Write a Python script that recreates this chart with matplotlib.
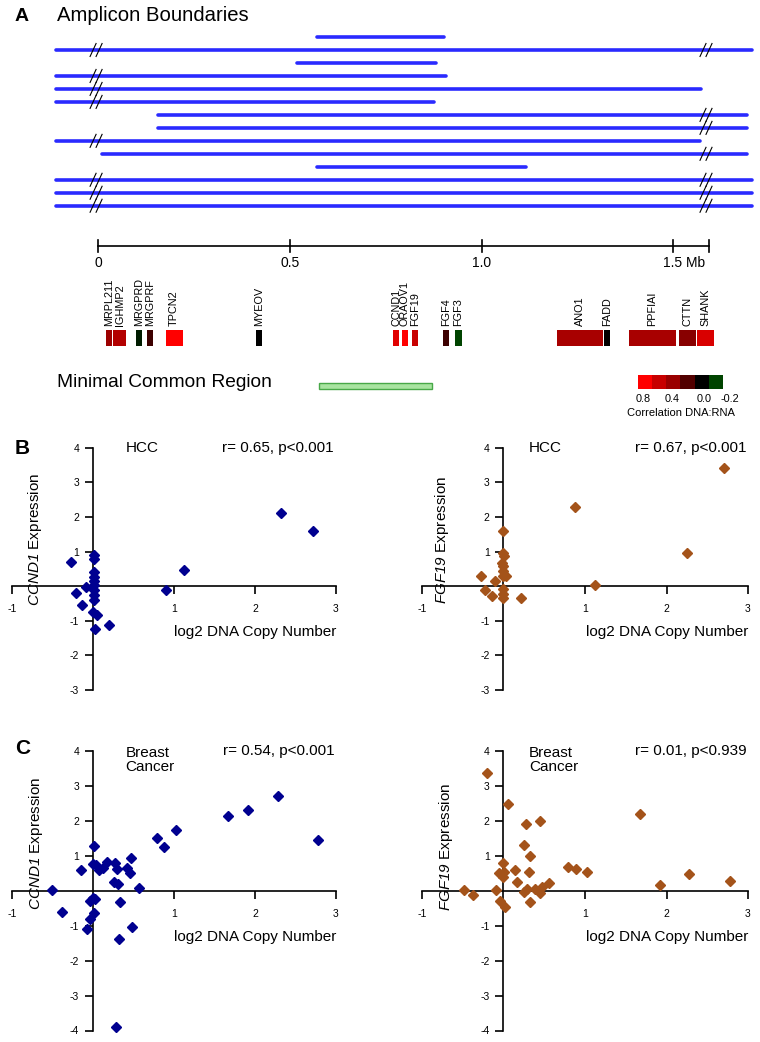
import numpy as np
import matplotlib.pyplot as plt
from matplotlib.colors import LinearSegmentedColormap, Normalize
from matplotlib.patches import Rectangle

plt.rcParams['font.family'] = ['Liberation Sans', 'DejaVu Sans']
plt.rcParams['mathtext.fontset'] = 'custom'
plt.rcParams['mathtext.it'] = 'Liberation Sans:italic'
plt.rcParams['mathtext.rm'] = 'Liberation Sans:italic'
plt.rcParams['axes.unicode_minus'] = False

# ---- panel A data (positions in Mb) ----
amp_start = [0.572, -0.110, 0.520, -0.110, -0.110, -0.110, 0.157, 0.157, -0.110, 0.010, 0.572, -0.110, -0.110, -0.110]
amp_end = [0.901, 1.705, 0.880, 0.906, 1.572, 0.875, 1.692, 1.692, 1.569, 1.692, 1.115, 1.705, 1.705, 1.705]
amp_break_left = [0, 1, 0, 1, 1, 1, 0, 0, 1, 0, 0, 1, 1, 1]
amp_break_right = [0, 1, 0, 0, 0, 0, 1, 1, 0, 1, 0, 1, 1, 1]
break_left_mb = -0.005
break_right_mb = 1.585

scale_ticks = [0, 0.5, 1.0, 1.5]
scale_labels = ['0', '0.5', '1.0', '1.5 Mb']
scale_end = 1.592

genes = ['MRPL211', 'IGHMP2', 'MRGPRD', 'MRGPRF', 'TPCN2', 'MYEOV', 'CCND1', 'ORAOV1',
         'FGF19', 'FGF4', 'FGF3', 'ANO1', 'FADD', 'PPFIAI', 'CTTN', 'SHANK']
gene_start = [0.020, 0.040, 0.100, 0.127, 0.176, 0.412, 0.770, 0.792,
              0.818, 0.900, 0.931, 1.196, 1.320, 1.385, 1.515, 1.562]
gene_end = [0.036, 0.073, 0.116, 0.144, 0.221, 0.428, 0.785, 0.807,
            0.834, 0.916, 0.948, 1.316, 1.335, 1.506, 1.558, 1.607]
gene_corr = [0.41, 0.51, -0.08, 0.15, 0.80, 0.0, 0.69, 0.80,
             0.60, 0.15, -0.20, 0.46, 0.01, 0.46, 0.35, 0.66]

mcr_start, mcr_end = 0.576, 0.871
cbar_vals = [0.8, 0.6, 0.4, 0.2, 0.0, -0.2]
cbar_labels = ['0.8', '0.4', '0.0', '-0.2']

# ---- panels B/C data ----
hcc_cn1 = [-0.27, -0.21, -0.13, -0.09, 0.01, 0.01, 0.01, 0.01, 0.01, 0.01, 0.01,
           0.01, 0.01, 0.0, 0.05, 0.02, 0.20, 0.90, 1.12, 2.32, 2.72]
hcc_ccnd1 = [0.71, -0.19, -0.55, -0.03, 0.90, 0.78, 0.42, 0.26, 0.16, 0.04, -0.12,
             -0.25, -0.41, -0.74, -0.82, -1.24, -1.11, -0.10, 0.46, 2.10, 1.58]

hcc_cn2 = [-0.27, -0.23, -0.14, -0.11, 0.0, 0.0, 0.01, -0.02, 0.0, 0.0, 0.0,
           0.03, 0.0, 0.0, -0.01, 0.21, 0.88, 1.12, 2.25, 2.71]
hcc_fgf19 = [0.30, -0.12, -0.29, 0.16, 1.58, 0.95, 0.87, 0.66, 0.59, 0.45, 0.30,
             0.28, -0.08, -0.22, -0.33, -0.33, 2.29, 0.02, 0.97, 3.40]

br_cn1 = [-0.51, -0.38, -0.15, -0.07, -0.04, 0.01, 0.0, 0.04, -0.04, 0.0, 0.03,
          0.01, 0.07, 0.12, 0.17, 0.27, 0.30, 0.26, 0.31, 0.33, 0.32, 0.28,
          0.42, 0.46, 0.47, 0.48, 0.57, 0.79, 0.88, 1.03, 1.67, 1.91, 2.28, 2.78]
br_ccnd1 = [0.02, -0.60, 0.59, -1.10, -0.82, 1.28, 0.75, 0.73, -0.31, -0.22, -0.23,
            -0.63, 0.59, 0.64, 0.83, 0.80, 0.61, 0.24, 0.19, -0.34, -1.39, -3.89,
            0.64, 0.50, 0.92, -1.05, 0.07, 1.49, 1.24, 1.73, 2.13, 2.30, 2.70, 1.44]

br_cn2 = [-0.48, -0.37, -0.20, -0.09, -0.06, 0.06, -0.01, 0.01, 0.0, -0.04, 0.02,
          0.14, 0.16, 0.25, 0.27, 0.25, 0.31, 0.33, 0.29, 0.33, 0.39, 0.45, 0.45,
          0.47, 0.56, 0.79, 0.89, 1.02, 1.67, 1.92, 2.28, 2.78]
br_fgf19 = [0.02, -0.14, 3.35, 0.02, 0.51, 2.48, 0.80, 0.54, 0.40, -0.29, -0.46,
            0.59, 0.26, 1.30, 1.90, -0.05, 0.54, 1.00, 0.04, -0.34, 0.04, 2.00, -0.08,
            0.11, 0.23, 0.67, 0.63, 0.52, 2.19, 0.16, 0.48, 0.27]

blue = '#000090'
brown = '#a4531a'
amp_color = '#2a2aff'

fig = plt.figure(figsize=(7.6, 10.42), dpi=100)
H = 1042.0
mb = 383.6  # pixels per Mb in panel A

# ---------------- panel A ----------------
axA = fig.add_axes([0, 1 - 430 / H, 1, 430 / H])
axA.set_xlim(-98 / mb, 662 / mb)
axA.set_ylim(430, 0)
axA.axis('off')

fig.text(21.5 / 760, 1 - 16.5 / H, 'A', fontsize=14, fontweight='bold', ha='center', va='center')
axA.text(-41 / mb, 21, 'Amplicon Boundaries', fontsize=14.6, va='baseline', ha='left')

row_y = 37 + 12.98 * np.arange(len(amp_start))
for s, e, bl, br, y in zip(amp_start, amp_end, amp_break_left, amp_break_right, row_y):
    axA.plot([s, e], [y, y], color=amp_color, lw=2.6, solid_capstyle='round')
    for flag, xb in ((bl, break_left_mb), (br, break_right_mb)):
        if flag:
            for off in (-3, 3):
                cx = xb + off / mb
                axA.plot([cx - 3 / mb, cx + 3 / mb], [y + 6.5, y - 6.5], color='black', lw=0.8)

# scale
axA.plot([0, scale_end], [246, 246], color='black', lw=1.2)
for t in scale_ticks + [scale_end]:
    axA.plot([t, t], [240, 252], color='black', lw=1.2)
for t, lab in zip(scale_ticks, scale_labels):
    if lab.endswith('Mb'):
        axA.text(t - 10 / mb, 267, lab, fontsize=10, ha='left', va='baseline')
    else:
        axA.text(t, 267, lab, fontsize=10, ha='center', va='baseline')

# genes
cmap = LinearSegmentedColormap.from_list(
    'dnarna', [(0, '#004400'), (0.2, '#000000'), (0.4, '#520000'),
               (0.6, '#9a0000'), (0.8, '#c80000'), (1, '#ff0000')])
norm = Normalize(vmin=-0.2, vmax=0.8)
for g, s, e, c in zip(genes, gene_start, gene_end, gene_corr):
    axA.add_patch(Rectangle((s, 330), e - s, 16, facecolor=cmap(norm(c)), edgecolor='none'))
    axA.text((s + e) / 2, 326, g, rotation=90, fontsize=7.8, ha='center', va='bottom')

# minimal common region
axA.text(-41 / mb, 387, 'Minimal Common Region', fontsize=13.8, ha='left', va='baseline')
axA.add_patch(Rectangle((mcr_start, 382.5), mcr_end - mcr_start, 6.5,
                        facecolor='#a8e4a0', edgecolor='#48a848', lw=1))

# colour key
axcb = fig.add_axes([638 / 760, 1 - 389 / H, 85 / 760, 14 / H])
axcb.imshow([cbar_vals], cmap=cmap, norm=norm, aspect='auto', extent=(0, 6, 0, 1))
axcb.set_xlim(0, 6)
axcb.set_ylim(0, 1)
axcb.axis('off')
for xl, lab in zip([0.4, 2.4, 4.7, 6.5], cbar_labels):
    axcb.text(xl, -0.72, lab, fontsize=7.8, ha='center', va='center')
axcb.text(3.05, -1.72, 'Correlation DNA:RNA', fontsize=8, ha='center', va='center')


# ---------------- scatter panels ----------------
def scatter_panel(rect, x, y, color, ylo, gene, tissue, stat, tissue_x, stat_x, ylab_x, ylab_y):
    ax = fig.add_axes(rect)
    ax.plot(x, y, 'D', ms=5.6, color=color, ls='none', clip_on=False, zorder=3)
    ax.set_xlim(-1, 3)
    ax.set_ylim(ylo, 4)
    for side in ('top', 'right'):
        ax.spines[side].set_visible(False)
    for side in ('left', 'bottom'):
        ax.spines[side].set_position(('data', 0))
        ax.spines[side].set_linewidth(1.2)
    ax.set_xticks([-1, 1, 2, 3])
    ax.set_yticks([v for v in range(ylo, 5) if v != 0])
    ax.tick_params(axis='both', direction='out', length=6, width=1.2, labelsize=7.5)
    ax.tick_params(axis='x', pad=7)
    ax.tick_params(axis='y', pad=4)
    ax.patch.set_alpha(0)
    ax.text(tissue_x, 4.0 if '\n' not in tissue else 3.72, tissue, fontsize=11,
            ha='left', va='center', linespacing=1.0)
    ax.text(stat_x, 4.0, stat, fontsize=11, ha='right', va='center')
    ax.text(3.0, -1.32, 'log2 DNA Copy Number', fontsize=11, ha='right', va='center')
    ax.text(ylab_x, ylab_y, r'$\mathrm{' + gene + '}$ Expression', fontsize=11,
            rotation=90, ha='center', va='center')
    return ax


rowB = [1 - 690 / H, (690 - 447.7) / H]
rowC = [1 - 1030.5 / H, (1030.5 - 750.7) / H]
left_col = [12 / 760, 324 / 760]
right_col = [422 / 760, 326 / 760]

scatter_panel([left_col[0], rowB[0], left_col[1], rowB[1]], hcc_cn1, hcc_ccnd1, blue, -3,
              'CCND1', 'HCC', 'r= 0.65, p<0.001', 0.40, 2.97, -0.72, 1.35)
scatter_panel([right_col[0], rowB[0], right_col[1], rowB[1]], hcc_cn2, hcc_fgf19, brown, -3,
              'FGF19', 'HCC', 'r= 0.67, p<0.001', 0.31, 2.98, -0.75, 1.35)
scatter_panel([left_col[0], rowC[0], left_col[1], rowC[1]], br_cn1, br_ccnd1, blue, -4,
              'CCND1', 'Breast\nCancer', 'r= 0.54, p<0.001', 0.40, 2.98, -0.70, 1.36)
scatter_panel([right_col[0], rowC[0], right_col[1], rowC[1]], br_cn2, br_fgf19, brown, -4,
              'FGF19', 'Breast\nCancer', 'r= 0.01, p<0.939', 0.31, 2.98, -0.71, 1.25)

fig.text(22.5 / 760, 1 - 448.5 / H, 'B', fontsize=15, fontweight='bold', ha='center', va='center')
fig.text(22.5 / 760, 1 - 749 / H, 'C', fontsize=15, fontweight='bold', ha='center', va='center')

fig.savefig('out.png', dpi=100)
